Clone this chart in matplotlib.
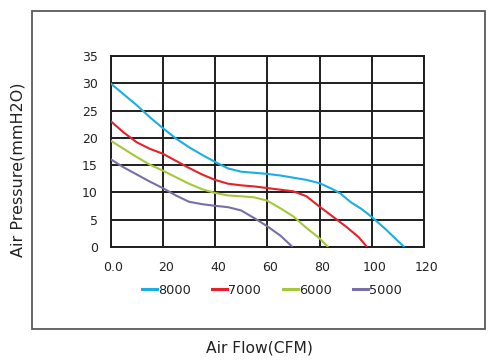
import matplotlib
matplotlib.use("Agg")
import matplotlib.pyplot as plt
import matplotlib.transforms as mtransforms
from matplotlib.patches import Rectangle
from matplotlib.lines import Line2D

plt.rcParams['font.family'] = ['DejaVu Sans']

x_ticks = [0, 20, 40, 60, 80, 100, 120]
x_tick_labels = ["0.0", "20", "40", "60", "80", "100", "120"]
y_ticks = [0, 5, 10, 15, 20, 25, 30, 35]

series_names = ["8000", "7000", "6000", "5000"]
colors = ["#1aaee3", "#e8202a", "#a5c83a", "#7a6ea8"]

flow_8000 = [0, 5, 10, 15, 20, 25, 30, 35, 40, 45, 50, 55, 60, 65, 70, 75, 80, 85, 88, 92, 96, 100, 105, 110, 112.5]
pres_8000 = [30, 28, 26, 23.8, 21.8, 19.9, 18.3, 16.9, 15.6, 14.4, 13.8, 13.6, 13.4, 13.1, 12.7, 12.3, 11.7, 10.6, 9.8, 8.2, 7.0, 5.5, 3.4, 1.1, 0]

flow_7000 = [0, 5, 10, 15, 20, 25, 30, 35, 40, 45, 50, 55, 60, 65, 70, 75, 80, 85, 90, 95, 98.2]
pres_7000 = [23.1, 21.0, 19.2, 18.0, 17.1, 15.8, 14.5, 13.3, 12.3, 11.6, 11.3, 11.1, 10.8, 10.5, 10.2, 9.3, 7.4, 5.6, 3.8, 1.8, 0]

flow_6000 = [0, 5, 10, 15, 20, 25, 30, 35, 40, 45, 50, 55, 60, 65, 70, 75, 80, 83.3]
pres_6000 = [19.5, 18.0, 16.5, 15.1, 14.0, 12.8, 11.6, 10.6, 9.9, 9.45, 9.3, 9.1, 8.5, 7.1, 5.6, 3.5, 1.6, 0]

flow_5000 = [0, 5, 10, 15, 20, 25, 30, 35, 40, 45, 50, 55, 60, 65, 69.7]
pres_5000 = [16.1, 14.6, 13.3, 12.0, 10.8, 9.45, 8.3, 7.85, 7.55, 7.3, 6.7, 5.3, 3.8, 2.1, 0]

flows = [flow_8000, flow_7000, flow_6000, flow_5000]
pressures = [pres_8000, pres_7000, pres_6000, pres_5000]

fig = plt.figure(figsize=(4.94, 3.63), dpi=100)
W, H = 494, 363

# outer frame
fig.patches.append(Rectangle((32 / W, 1 - 329 / H), (485 - 32) / W, (329 - 11) / H,
                             transform=fig.transFigure, fill=False,
                             edgecolor="#5a5a5a", linewidth=1.3))

ax = fig.add_axes([110.5 / W, 1 - 247 / H, (424 - 110.5) / W, (247 - 56) / H])

for f, p, c, n in zip(flows, pressures, colors, series_names):
    ax.plot(f, p, color=c, linewidth=1.5, label=n, solid_capstyle='butt', zorder=3)

ax.set_xlim(0, 120)
ax.set_ylim(0, 35)
ax.set_xticks(x_ticks)
ax.set_xticklabels(x_tick_labels)
ax.set_yticks(y_ticks)
ax.grid(True, color="#1e1e1e", linewidth=1.4)
ax.tick_params(length=0, labelsize=9, colors="#222222")
ax.tick_params(axis='x', pad=10)
ax.tick_params(axis='y', pad=9)
shift = mtransforms.ScaledTranslation(3 / 100, 0, fig.dpi_scale_trans)
for lab in ax.get_xticklabels():
    lab.set_transform(lab.get_transform() + shift)
for s in ax.spines.values():
    s.set_color("#1e1e1e")
    s.set_linewidth(1.4)

handles = [Line2D([0], [0], color=c, linewidth=2.2) for c in colors]
fig.legend(handles, series_names, loc='center', bbox_to_anchor=(272 / W, 1 - 290 / H),
           ncol=4, frameon=False, fontsize=9.3, handlelength=1.15, handletextpad=0.1,
           columnspacing=1.65, labelcolor="#222222")

fig.text(18 / W, 1 - 170 / H, "Air Pressure(mmH2O)", rotation=90, ha='center', va='center',
         fontsize=11.5, color="#222222")
fig.text(259 / W, 1 - 348 / H, "Air Flow(CFM)", ha='center', va='center',
         fontsize=11.2, color="#222222")

fig.savefig("out.png", dpi=100)
